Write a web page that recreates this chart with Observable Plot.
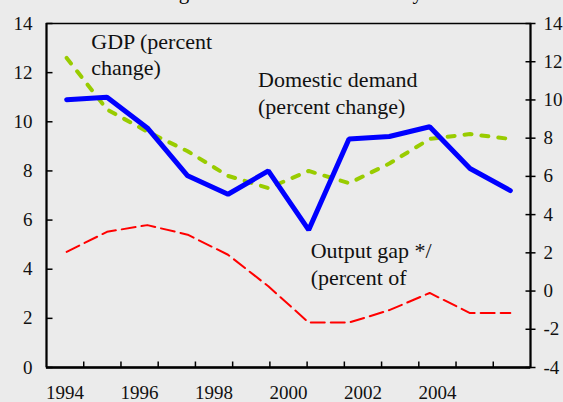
<!DOCTYPE html>
<html>
<head>
<meta charset="utf-8">
<script src="https://cdn.jsdelivr.net/npm/d3@7"></script>
<script src="https://cdn.jsdelivr.net/npm/@observablehq/plot@0.6"></script>
<style>
  html, body { margin: 0; padding: 0; background: #ebebeb; }
  #chart svg { display: block; }
  #chart svg text { font-family: "Liberation Serif", "Times New Roman", serif; }
</style>
</head>
<body>
<div id="chart"></div>
<script>
// ---- data ----
const years = [1994, 1995, 1996, 1997, 1998, 1999, 2000, 2001, 2002, 2003, 2004, 2005];
const domesticDemand = [10.9, 11.0, 9.75, 7.8, 7.05, 8.0, 5.6, 9.3, 9.4, 9.8, 8.1, 7.2];   // left axis
const gdp = [12.6, 10.5, 9.6, 8.8, 7.8, 7.3, 8.0, 7.5, 8.3, 9.3, 9.5, 9.3];               // left axis
const outputGap = [2.05, 3.1, 3.45, 2.95, 1.9, 0.25, -1.65, -1.65, -1.0, -0.1, -1.15, -1.15]; // right axis

const leftTicks = [0, 2, 4, 6, 8, 10, 12, 14];
const rightTicks = [-4, -2, 0, 2, 4, 6, 8, 10, 12, 14];
const axisYears = [1994, 1995, 1996, 1997, 1998, 1999, 2000, 2001, 2002, 2003, 2004, 2005, 2006];
const axisLabelYears = [1994, 1996, 1998, 2000, 2002, 2004];

const titleText = "Real GDP growth and domestic activity";
const annotationTexts = ["GDP (percent\nchange)", "Domestic demand\n(percent change)", "Output gap */\n(percent of"];

// ---- derived ----
const xDomain = [1993.5, 2005.5];
const leftDomain = [0, 14];
const rightDomain = [-4, 14];
const toLeft = v => (v - rightDomain[0]) / (rightDomain[1] - rightDomain[0]) * (leftDomain[1] - leftDomain[0]) + leftDomain[0];

const rows = years.map((year, i) => ({year, dd: domesticDemand[i], gdp: gdp[i], gap: toLeft(outputGap[i])}));

// the printed year axis uses its own 13 categories spread across the frame
const nCat = axisYears.length;
const catWidth = (xDomain[1] - xDomain[0]) / nCat;
const catCenter = yr => xDomain[0] + (axisYears.indexOf(yr) + 0.5) * catWidth;
const catBounds = axisYears.slice(1).map((_, i) => xDomain[0] + (i + 1) * catWidth);

// annotation anchors (data units: year, left-axis value of last line baseline)
const annotations = [
  {text: annotationTexts[0], x: 1994.61, y: 11.89},
  {text: annotationTexts[1], x: 1998.745, y: 10.33},
  {text: annotationTexts[2], x: 2000.05, y: 3.37}
];

const serif = "Liberation Serif";

// tick glyphs
const tickInRight = {draw(c) { c.moveTo(0, 0); c.lineTo(6, 0); }};
const tickUp = {draw(c) { c.moveTo(0, 0); c.lineTo(0, -6); }};
const tickCross = {draw(c) { c.moveTo(-5, 0); c.lineTo(5, 0); }};

const chart = Plot.plot({
  width: 563,
  height: 402,
  marginTop: 23,
  marginBottom: 35,
  marginLeft: 46,
  marginRight: 33,
  style: {
    background: "#ebebeb",
    fontFamily: "'Liberation Serif', 'Times New Roman', serif",
    fontSize: "19px",
    color: "#000",
    overflow: "visible"
  },
  x: {domain: xDomain, axis: null},
  y: {domain: leftDomain, axis: null},
  marks: [
    // title (mostly above the visible area, as in the reference)
    Plot.text([titleText], {frameAnchor: "top-left", dx: 42, dy: -25, textAnchor: "start", lineAnchor: "bottom", fontSize: 21, fontFamily: serif, fill: "#000"}),
    // frame
    Plot.frame({stroke: "#000", strokeWidth: 1.5}),
    Plot.ruleY([0], {stroke: "#000", strokeWidth: 2.5}),
    Plot.ruleX([xDomain[0]], {stroke: "#000", strokeWidth: 2}),
    Plot.ruleX([xDomain[1]], {stroke: "#000", strokeWidth: 2}),
    // left axis
    Plot.dot(leftTicks, {y: d => d, frameAnchor: "left", symbol: tickInRight, fill: "none", stroke: "#000", strokeWidth: 1.5}),
    Plot.text(leftTicks, {y: d => d, frameAnchor: "left", text: d => String(d), dx: -14, textAnchor: "end", lineAnchor: "middle", fontFamily: serif, fontSize: 19, fill: "#111"}),
    // right axis (output gap)
    Plot.dot(rightTicks, {y: d => toLeft(d), frameAnchor: "right", symbol: tickCross, fill: "none", stroke: "#000", strokeWidth: 1.5}),
    Plot.text(rightTicks, {y: d => toLeft(d), frameAnchor: "right", text: d => String(d), dx: 13, textAnchor: "start", lineAnchor: "middle", fontFamily: serif, fontSize: 19, fill: "#111"}),
    // bottom axis
    Plot.dot(catBounds, {x: d => d, frameAnchor: "bottom", symbol: tickUp, fill: "none", stroke: "#000", strokeWidth: 1.5}),
    Plot.text(axisLabelYears, {x: d => catCenter(d), frameAnchor: "bottom", text: d => String(d), dy: 31, lineAnchor: "bottom", fontFamily: serif, fontSize: 19, fill: "#111"}),
    // series
    Plot.line(rows, {x: "year", y: "gap", stroke: "#ff0000", strokeWidth: 2, strokeDasharray: "14,6"}),
    Plot.line(rows, {x: "year", y: "gdp", stroke: "#99cc00", strokeWidth: 4, strokeDasharray: "7,10"}),
    Plot.line(rows, {x: "year", y: "dd", stroke: "#0000ff", strokeWidth: 5, strokeLinejoin: "miter"}),
    // annotations
    Plot.text(annotations, {x: "x", y: "y", text: "text", textAnchor: "start", lineAnchor: "bottom", lineHeight: 1.22, fontSize: 22, fontFamily: serif, fill: "#111"})
  ]
});

document.getElementById("chart").appendChild(chart);
</script>
</body>
</html>
